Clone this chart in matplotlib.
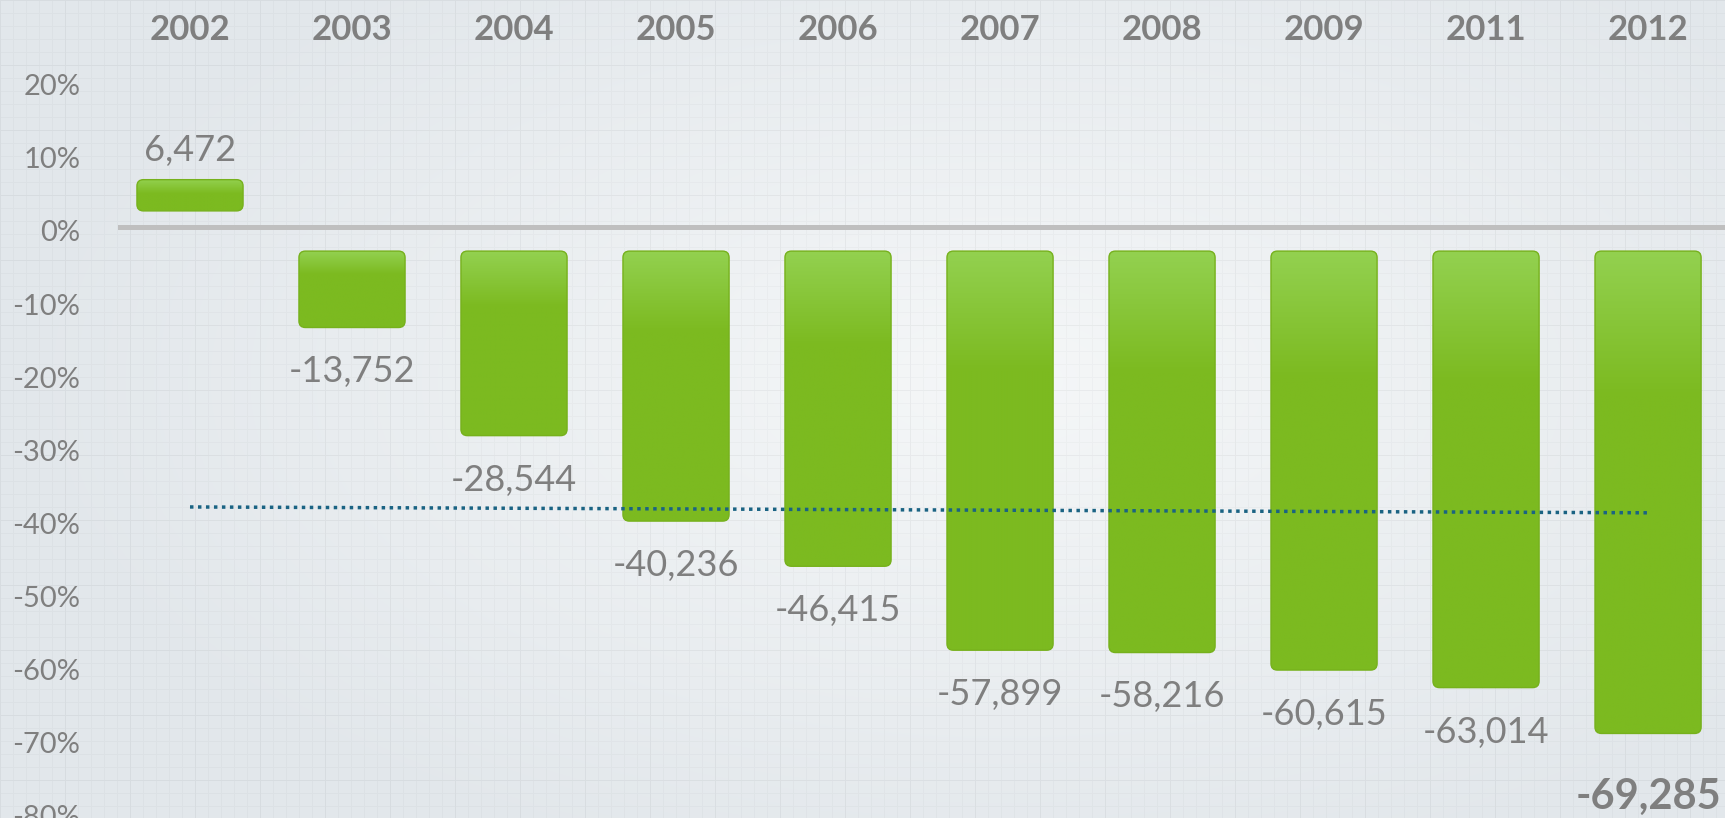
import numpy as np
import matplotlib
matplotlib.use("Agg")
import matplotlib.pyplot as plt
from matplotlib.patches import FancyBboxPatch
from matplotlib.transforms import ScaledTranslation, blended_transform_factory

# ---- data ----
years = ["2002", "2003", "2004", "2005", "2006", "2007", "2008", "2009", "2011", "2012"]
values = [6472, -13752, -28544, -40236, -46415, -57899, -58216, -60615, -63014, -69285]
value_labels = ["6,472", "-13,752", "-28,544", "-40,236", "-46,415", "-57,899",
                "-58,216", "-60,615", "-63,014", "-69,285"]
trend = [-38.3, -39.1]          # dotted reference line (%), first to last category
y_ticks = [20, 10, 0, -10, -20, -30, -40, -50, -60, -70, -80]
y_tick_labels = [f"{t}%" for t in y_ticks]

plt.rcParams["font.family"] = ["Lato", "DejaVu Sans"]
GRAY = "#7f7f7f"
W, H = 1725, 818
fig = plt.figure(figsize=(W / 100, H / 100), dpi=100)

# ---- background: light graph-paper with soft highlight ----
bg = fig.add_axes([0, 0, 1, 1], zorder=0)
bg.axis("off")
yy, xx = np.mgrid[0:H, 0:W]
r = np.sqrt(((xx - 1000) / 1000.0) ** 2 + ((yy - 380) / 520.0) ** 2)
t = np.clip(1 - r, 0, 1)
edge = np.array([226, 231, 235]) / 255.0
center = np.array([245, 247, 248]) / 255.0
img = edge[None, None, :] * (1 - t[..., None]) + center[None, None, :] * t[..., None]
minor = ((xx % 13) == 0) | ((yy % 13) == 0)
major = ((xx % 65) == 0) | ((yy % 65) == 0)
img[minor] -= 0.022
img[major] -= 0.02
bg.imshow(np.clip(img, 0, 1), extent=[0, 1, 0, 1], aspect="auto", interpolation="bilinear")
bg.set_xlim(0, 1); bg.set_ylim(0, 1)

# ---- main axes ----
left_px = 118
ax = fig.add_axes([left_px / W, 0, 1 - left_px / W, 1], zorder=1)
ax.patch.set_alpha(0)
for s in ax.spines.values():
    s.set_visible(False)

x = np.arange(len(years))
v_pct = np.array(values) / 1000.0
gap_pos, gap_neg = 2.2, 3.3
bottoms = np.where(v_pct > 0, gap_pos, -gap_neg)
heights = v_pct - bottoms

xlim = (-0.4444, 9.475)
ylim = (-80.85, 31.05)
ax.set_xlim(*xlim)
ax.set_ylim(*ylim)

ax.axhline(0, color="#bfbfbf", lw=3.6, zorder=1)

bars = ax.bar(x, heights, bottom=bottoms, width=0.655, color="none", edgecolor="none")

ax_w_px = W - left_px
mut_aspect = ((ylim[1] - ylim[0]) / H) / ((xlim[1] - xlim[0]) / ax_w_px)
top_col = np.array([147, 209, 80]) / 255.0
main_col = np.array([124, 186, 32]) / 255.0
for rect in bars.patches:
    x0, y0 = rect.get_x(), rect.get_y()
    w, h = rect.get_width(), rect.get_height()
    ylo, yhi = min(y0, y0 + h), max(y0, y0 + h)
    fb = FancyBboxPatch((x0, ylo), w, yhi - ylo,
                        boxstyle="round,pad=0,rounding_size=0.04",
                        mutation_aspect=mut_aspect,
                        facecolor="none", edgecolor="#76b11c", lw=1.0, zorder=3)
    ax.add_patch(fb)
    n = 200
    frac = 0.45 if (yhi - ylo) < 8 else 0.3
    s_ = np.linspace(0, 1, n)
    tt = np.clip(s_ / frac, 0, 1)[:, None]
    grad = top_col[None, :] * (1 - tt) + main_col[None, :] * tt
    grad = np.repeat(grad[:, None, :], 2, axis=1)
    im = ax.imshow(grad, extent=[x0, x0 + w, ylo, yhi], aspect="auto",
                   origin="upper", zorder=2, interpolation="bilinear")
    im.set_clip_path(fb)
ax.set_xlim(*xlim)
ax.set_ylim(*ylim)

# trend line
ax.plot([x[0], x[-1]], trend, color="#1a6383", lw=2.5,
        linestyle=(0, (1, 1.3)), zorder=4, solid_capstyle="butt")

# y tick labels
ax.set_yticks(y_ticks)
ax.set_yticklabels(y_tick_labels)
ax.tick_params(axis="y", length=0, pad=27, labelsize=21, labelcolor=GRAY)
for lbl in ax.get_yticklabels():
    lbl.set_transform(lbl.get_transform() + ScaledTranslation(0, -4 / 100, fig.dpi_scale_trans))
ax.set_xticks([])

# year labels at top
trans_top = blended_transform_factory(ax.transData, ax.transAxes)
for xi, yr in zip(x, years):
    ax.text(xi, 1 - 30 / H, yr, transform=trans_top, ha="center", va="center",
            fontsize=25, fontweight="bold", color=GRAY)

# value labels
for i, (xi, v, lab) in enumerate(zip(x, v_pct, value_labels)):
    last = i == len(values) - 1
    if v > 0:
        ax.annotate(lab, (xi, v), xytext=(0, 21), textcoords="offset points",
                    ha="center", va="center", fontsize=26, color=GRAY)
    else:
        off = -46 if last else -32
        ax.annotate(lab, (xi, v), xytext=(0, off), textcoords="offset points",
                    ha="center", va="center", fontsize=30 if last else 26,
                    fontweight="bold" if last else "normal", color=GRAY)

fig.savefig("out.png", dpi=100)
